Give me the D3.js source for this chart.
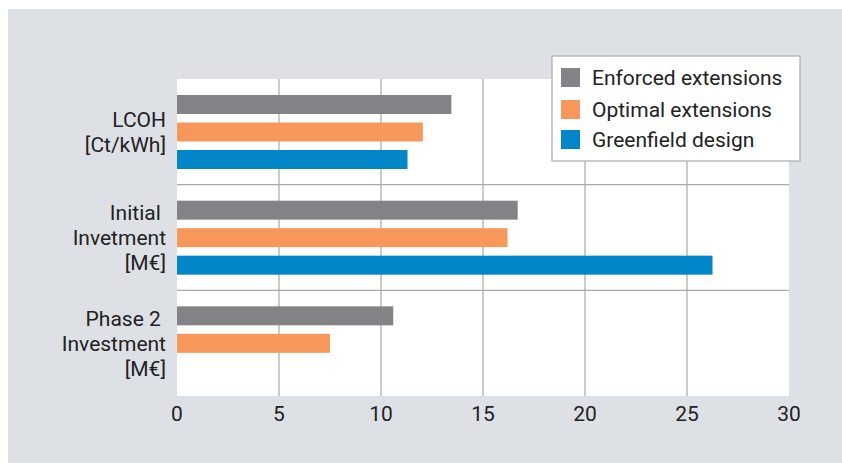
<!DOCTYPE html>
<html><head><meta charset="utf-8">
<script src="https://cdn.jsdelivr.net/npm/d3@7"></script>
<style>
html,body{margin:0;padding:0;background:#fff;}
svg{display:block;font-family:Roboto,"Noto Sans",sans-serif;}
</style></head>
<body>
<svg id="chart" width="842" height="463"></svg>
<script>
const categories = [
  ["LCOH", "[Ct/kWh]"],
  ["Initial\u00a0", "Invetment", "[M€]"],
  ["Phase 2\u00a0", "Investment", "[M€]"]
];
const series = ["Enforced extensions", "Optimal extensions", "Greenfield design"];
const colors = ["#838387", "#f79759", "#0086c9"];
const enforced = [13.45, 16.7, 10.6];
const optimal = [12.05, 16.2, 7.5];
const greenfield = [11.3, 26.25, null];
const xTicks = [0, 5, 10, 15, 20, 25, 30];

const values = [enforced, optimal, greenfield];
const svg = d3.select("#chart");
svg.append("rect").attr("x", 8).attr("y", 9).attr("width", 834).attr("height", 454).attr("fill", "#dde1e5");

const m = {left: 177, right: 789, top: 79, bottom: 396};
const x = d3.scaleLinear().domain([0, 30]).range([m.left, m.right]);
const y = d3.scaleBand().domain(d3.range(categories.length)).range([m.top, m.bottom]);
const sub = d3.scaleBand().domain(d3.range(series.length)).range([16, 90]).paddingInner(0.31);

svg.append("rect").attr("x", m.left).attr("y", m.top).attr("width", m.right - m.left).attr("height", m.bottom - m.top).attr("fill", "#fff");

// vertical grid
svg.append("g").selectAll("line").data(xTicks.slice(1, -1)).join("line")
  .attr("x1", d => x(d)).attr("x2", d => x(d)).attr("y1", m.top).attr("y2", m.bottom)
  .attr("stroke", "#a9a9a9").attr("stroke-width", 1.2);
// horizontal separators
svg.append("g").selectAll("line").data(d3.range(1, categories.length)).join("line")
  .attr("x1", m.left).attr("x2", m.right).attr("y1", d => y(d)).attr("y2", d => y(d))
  .attr("stroke", "#a9a9a9").attr("stroke-width", 1.2);

// bars
series.forEach((s, si) => {
  svg.append("g").selectAll("rect").data(values[si].map((v, ci) => ({v, ci})).filter(d => d.v != null)).join("rect")
    .attr("x", x(0)).attr("y", d => y(d.ci) + sub(si))
    .attr("width", d => x(d.v) - x(0)).attr("height", sub.bandwidth())
    .attr("fill", colors[si]);
});

// x tick labels
svg.append("g").selectAll("text").data(xTicks).join("text")
  .attr("x", d => x(d)).attr("y", m.bottom + 25).attr("text-anchor", "middle")
  .attr("font-size", 21).attr("fill", "#222").text(d => d);

// category labels
categories.forEach((lines, ci) => {
  const c = y(ci) + y.bandwidth() / 2;
  const t = svg.append("text").attr("text-anchor", "end").attr("font-size", 21).attr("fill", "#222");
  lines.forEach((l, li) => {
    t.append("tspan").attr("x", 166).attr("y", c - (lines.length - 1) * 12.5 + 7.5 + li * 25).text(l);
  });
});

// legend
const lg = svg.append("g");
lg.append("rect").attr("x", 552).attr("y", 56).attr("width", 248).attr("height", 105)
  .attr("fill", "#fff").attr("stroke", "#ababab").attr("stroke-width", 1.2);
const ly = [68, 100, 130];
series.forEach((s, si) => {
  lg.append("rect").attr("x", 561).attr("y", ly[si]).attr("width", 19).attr("height", 19).attr("fill", colors[si]);
  lg.append("text").attr("x", 592).attr("y", ly[si] + 16.5).attr("font-size", 21).attr("fill", "#222").text(s);
});
</script>
</body></html>
